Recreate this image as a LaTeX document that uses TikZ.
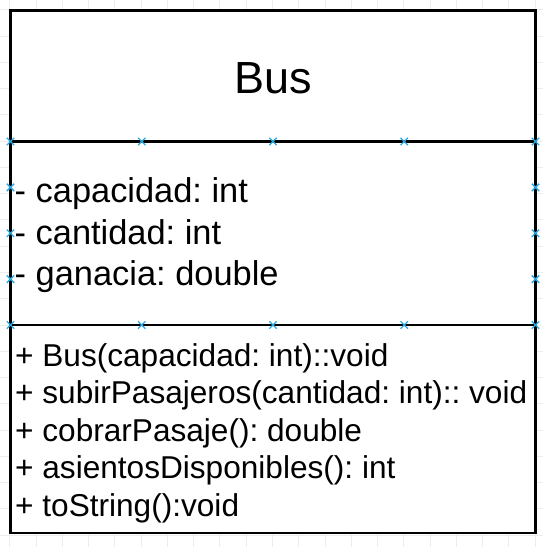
\documentclass[tikz,border=0pt]{standalone}
\usepackage{fontspec}
\setmainfont{Liberation Sans}
\usetikzlibrary{shapes.misc}
\definecolor{pointblue}{RGB}{41,170,226}
\frenchspacing
\tikzset{
  classline/.style={line width=2.2pt},
  pin/.style={cross out,draw=pointblue,line width=1.4pt,minimum size=6pt,inner sep=0pt},
  member/.style={anchor=base west,inner sep=0pt},
  gridline/.style={black!7,line width=0.8pt}
}

\begin{document}
\begin{tikzpicture}[x=1pt,y=-1pt]
    \useasboundingbox (0,0) rectangle (543,547);

    % Define the edges of the class box and its two dividers
    \def\xl{10.5}    % left edge
    \def\xr{535.5}   % right edge
    \def\xm{273}     % middle of the box
    \def\yt{10.5}    % top edge
    \def\ya{141.5}   % divider under the name
    \def\yb{325}     % divider under the attributes
    \def\yz{533.3}   % bottom edge

    % -- Faint background grid --
    \foreach \k in {0,...,20} {
      \draw[gridline] ({9.8+26.26*\k},0) -- ({9.8+26.26*\k},547);
      \draw[gridline] (0,{9.8+26.26*\k}) -- (543,{9.8+26.26*\k});
    }

    % -- The class box with its compartments --
    \fill[white] (\xl,\yt) rectangle (\xr,\yz);
    \draw[classline] (\xl,\yt) rectangle (\xr,\yz);
    \draw[classline] (\xl,\ya) -- (\xr,\ya);
    \draw[classline] (\xl,\yb) -- (\xr,\yb);

    % -- Class name --
    \node[anchor=base,inner sep=0pt,font=\fontsize{45}{54}\selectfont] (name) at (\xm,93.3) {Bus};

    % -- Attributes --
    \node[member,font=\fontsize{34.4}{40}\selectfont] (capacidad) at (14.5,202.5) {- capacidad: int};
    \node[member,font=\fontsize{34.4}{40}\selectfont] (cantidad) at (14.5,244) {- cantidad: int};
    \node[member,font=\fontsize{34.4}{40}\selectfont] (ganacia) at (14.5,285.5) {- ganacia: double};

    % -- Methods --
    \node[member,font=\fontsize{31.6}{38}\selectfont] (ctor) at (15,366) {+ Bus(capacidad: int)::void};
    \node[member,font=\fontsize{31.6}{38}\selectfont] (subir) at (15,403.5) {+ subirPasajeros(cantidad: int):: void};
    \node[member,font=\fontsize{31.6}{38}\selectfont] (cobrar) at (15,441) {+ cobrarPasaje(): double};
    \node[member,font=\fontsize{31.6}{38}\selectfont] (asientos) at (15,478.5) {+ asientosDisponibles(): int};
    \node[member,font=\fontsize{31.6}{38}\selectfont] (tostring) at (15,516) {+ toString():void};

    % -- Connection points on the attribute compartment --
    \foreach \px/\py [count=\i] in {\xl/\ya, 141.75/\ya, \xm/\ya, 404.25/\ya, \xr/\ya,
                                    \xl/187.4, \xl/233.25, \xl/279.1,
                                    \xr/187.4, \xr/233.25, \xr/279.1,
                                    \xl/\yb, 141.75/\yb, \xm/\yb, 404.25/\yb, \xr/\yb}
      \node[pin] (p\i) at (\px,\py) {};

\end{tikzpicture}
\end{document}
